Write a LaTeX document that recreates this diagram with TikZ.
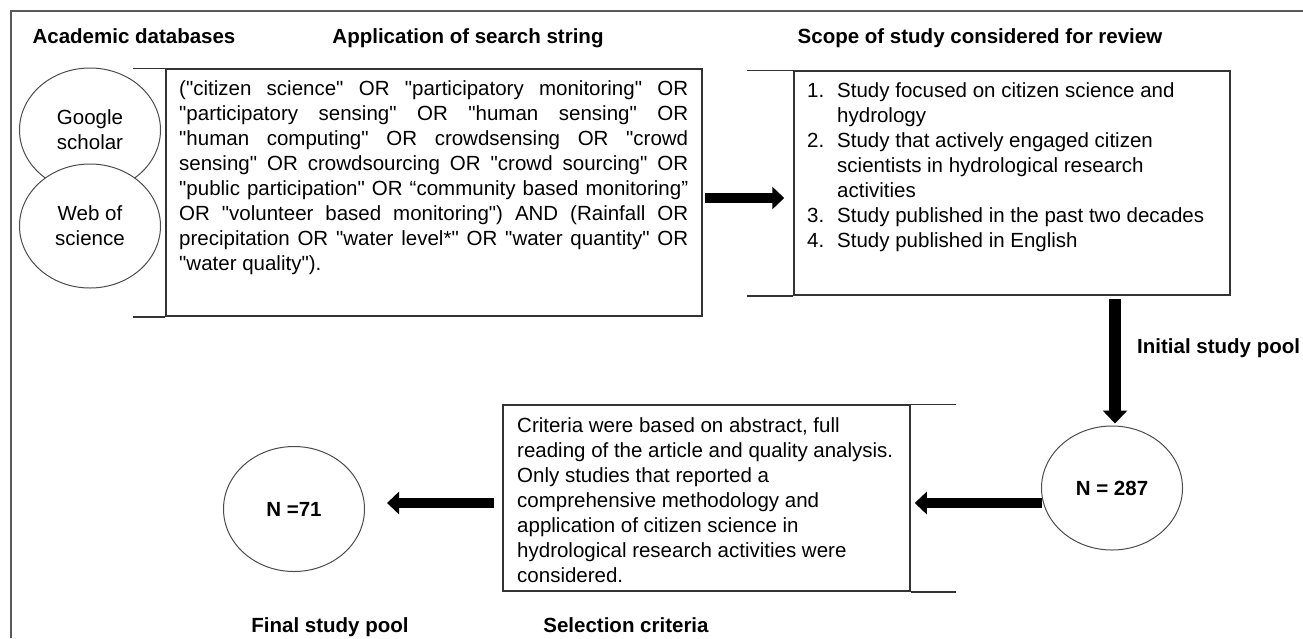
\documentclass[tikz,border=0pt]{standalone}
\usepackage{fontspec}
\setmainfont{Liberation Sans}
\newfontfamily\arialfnt{Liberation Sans}
\usetikzlibrary{arrows.meta,shapes.geometric,calc}
\newcommand\bodyfnt{\arialfnt\fontsize{20.5}{25}\selectfont}
\newcommand\headfnt{\arialfnt\fontsize{20.5}{25}\selectfont\bfseries}
\definecolor{framecol}{gray}{0.35}
\definecolor{boxcol}{gray}{0.2}
\definecolor{circcol}{gray}{0.3}
\begin{document}
\begin{tikzpicture}[x=1pt,y=-1pt,
  heading/.style={font=\headfnt, inner sep=0, anchor=base},
  boxshape/.style={draw=boxcol, line width=1.5pt, inner sep=0, rectangle},
  openline/.style={draw=boxcol, line width=1.5pt},
  bubble/.style={ellipse, draw=circcol, line width=1pt, fill=white, inner sep=0,
    minimum width=141pt, minimum height=124pt, align=center, font=\bodyfnt},
  bodytext/.style={font=\bodyfnt, inner sep=0, anchor=north west},
  bigarrow/.style={line width=10pt, -{Triangle[length=12pt, width=22pt]}},
  vbigarrow/.style={line width=12pt, -{Triangle[length=13pt, width=24pt]}},
]
\useasboundingbox (0,0) rectangle (1303,638);
\fill[white] (0,0) rectangle (1303,638);

% outer frame (top and left edges only)
\draw[framecol, line width=2pt] (1303,11) -- (11,11) -- (11,638);

% headings
\node[heading] (h1) at (134,43) {Academic databases};
\node[heading] (h2) at (468,43) {Application of search string};
\node[heading] (h3) at (980,43) {Scope of study considered for review};
\node[heading, anchor=base west] (h4) at (1137,353) {Initial study pool};
\node[heading] (h5) at (330,632) {Final study pool};
\node[heading] (h6) at (626,632) {Selection criteria};

% search string box
\node[boxshape, minimum width=536pt, minimum height=247pt] (search) at (434,192.5) {};
\draw[openline] (search.north west) -- ++(-32,0);
\draw[openline] (search.south west) -- ++(-32,0);
\node[bodytext, text width=509pt, align=justify] (searchtext) at (179,78) {\strut
("citizen science" OR "participatory monitoring" OR\linebreak
"participatory sensing" OR "human sensing" OR\linebreak
"human computing" OR crowdsensing OR "crowd\linebreak
sensing" OR crowdsourcing OR "crowd sourcing" OR\linebreak
"public participation" OR “community based monitoring”\linebreak
OR "volunteer based monitoring") AND (Rainfall OR\linebreak
precipitation OR "water level*" OR "water quantity" OR\linebreak
"water quality").};

% databases
\node[bubble] (google) at (90,130) {Google\\scholar};
\node[bubble] (wos) at (90,226) {Web of\\science};

% scope box
\node[boxshape, minimum width=436pt, minimum height=224pt] (scope) at (1012,183) {};
\draw[openline] (scope.north west) -- ++(-46,0);
\draw[openline] (scope.south west) -- ++(-46,0);
\node[bodytext, align=left] (scopetext) at (807,79.5) {\strut\makebox[30pt][l]{1.}Study focused on citizen science and\\
\hspace*{30pt}hydrology\\
\makebox[30pt][l]{2.}Study that actively engaged citizen\\
\hspace*{30pt}scientists in hydrological research\\
\hspace*{30pt}activities\\
\makebox[30pt][l]{3.}Study published in the past two decades\\
\makebox[30pt][l]{4.}Study published in English};

% pools
\node[bubble, font=\headfnt] (n287) at (1112,488) {N = 287};
\node[bubble, font=\headfnt, minimum height=125pt] (n71) at (294,509) {N =71};

% selection box
\node[boxshape, minimum width=407pt, minimum height=186pt] (sel) at (706.5,498) {};
\draw[openline] (sel.north east) -- ++(45,0);
\draw[openline] (sel.south east) -- ++(45,0);
\node[bodytext, align=left] (seltext) at (517,414.5) {\strut Criteria were based on abstract, full\\
reading of the article and quality analysis.\\
Only studies that reported a\\
comprehensive methodology and\\
application of citizen science in\\
hydrological research activities were\\
considered.};

% arrows
\coordinate (r1) at (0,198);
\coordinate (r3) at (0,503);
\coordinate (c2) at (1115,0);
\draw[bigarrow] ($(search.east |- r1)+(2,0)$) -- ($(scope.west |- r1)+(-9,0)$);
\draw[vbigarrow] ($(scope.south -| c2)+(0,3)$) -- ($(n287.north -| c2)+(0,-2)$);
\draw[bigarrow] ($(n287.west |- r3)+(1,0)$) -- ($(sel.east |- r3)+(4,0)$);
\draw[bigarrow] ($(sel.west |- r3)+(-8,0)$) -- ($(n71.east |- r3)+(22,0)$);
\end{tikzpicture}
\end{document}
